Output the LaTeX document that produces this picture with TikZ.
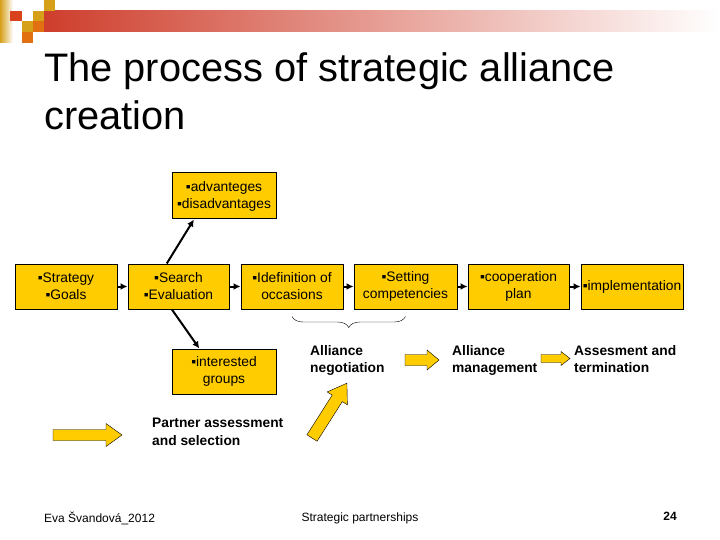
\documentclass[tikz,border=0pt]{standalone}
\usepackage{fontspec}
\setmainfont{Liberation Sans}
\usepackage{tikz}
\usetikzlibrary{decorations.pathreplacing}
\usetikzlibrary{calc}
\usetikzlibrary{arrows.meta}
\usepackage{xcolor}
\definecolor{boxyellow}{RGB}{255,204,0}
\definecolor{bannerred}{RGB}{206,62,44}
\definecolor{sqgold}{RGB}{214,160,24}
\definecolor{sqorange}{RGB}{224,112,16}
\definecolor{sqred}{RGB}{216,66,28}

\tikzset{
  stepbox/.style={draw, line width=1pt, fill=boxyellow, inner sep=0pt, minimum width=102pt, minimum height=45pt, align=center, font=\fontsize{13.8}{17}\selectfont},
  phase/.style={anchor=north west, inner sep=0pt, align=left, font=\fontsize{13.8}{17.5}\bfseries},
  link/.style={line width=2pt, -{Latex[length=7pt,width=7pt]}},
  yarrow/.style={draw, fill=boxyellow, line join=miter},
  pics/blockarrow/.style n args={4}{code={
    \draw[yarrow] (0,#2) -- ({#1-#4},#2) -- ({#1-#4},#3) -- (#1,0) -- ({#1-#4},-#3) -- ({#1-#4},-#2) -- (0,-#2) -- cycle;
  }}
}

\begin{document}
\begin{tikzpicture}[x=1pt, y=-1pt]
  \useasboundingbox[fill=white] (0,0) rectangle (720,540);

  % banner
  \shade[left color=sqgold, right color=white] (0,0) rectangle (13,43);
  \shade[left color=bannerred, right color=white] (44,11) rectangle (720,32);
  \fill[sqred] (10,11) rectangle (22,21);
  \fill[sqgold] (22,21) rectangle (33,32);
  \fill[sqgold] (33,11) rectangle (44,21);
  \fill[sqgold] (44,0) rectangle (55,11);
  \fill[sqorange] (33,21) rectangle (44,32);
  \fill[sqorange] (22,32) rectangle (33,43);

  \node[anchor=north west, inner sep=0pt, align=left, font=\fontsize{39.8}{48}\selectfont] (title) at (44,52)
    {The process of strategic alliance\\creation};

  % process boxes
  \node[stepbox] (strategy) at (66,286.5) {▪Strategy\\▪Goals};
  \node[stepbox, minimum width=101pt] (search) at (178.5,286.5) {▪Search\\▪Evaluation};
  \node[stepbox] (idef) at (292,286.5) {▪Idefinition of\\occasions};
  \node[stepbox, minimum width=103pt] (setting) at (405.5,286.5) {▪Setting\\competencies};
  \node[stepbox, minimum width=101pt] (coop) at (518.5,286.5) {▪cooperation\\plan};
  \node[stepbox] (impl) at (632,286.5) {▪implementation};
  \node[stepbox, minimum width=104pt, minimum height=46pt] (adv) at (224,196) {▪advanteges\\▪disadvantages};
  \node[stepbox, minimum width=104pt] (inter) at (224,371.5) {▪interested\\groups};

  \draw[link] (strategy) -- (search);
  \draw[link] (search) -- (idef);
  \draw[link] (idef) -- (setting);
  \draw[link] (setting) -- (coop);
  \draw[link] (coop) -- (impl);
  \draw[link] (search.117) -- (adv.218);
  \draw[link] (search.254) -- (inter.137);

  \draw[decorate, decoration={brace, mirror, amplitude=11pt}]
    ($(idef.south)+(0,7)$) -- ($(setting.south)+(0,7)$);

  % phases
  \node[phase] (nego) at (310,345) {Alliance\\negotiation};
  \node[phase] (manage) at (452,345) {Alliance\\management};
  \node[phase] (assess) at (574,345) {Assesment and\\termination};
  \node[phase] (partner) at (152,418) {Partner assessment\\and selection};

  \pic at (405,360) {blockarrow={34}{5.5}{10}{12}};
  \pic at (541,358.5) {blockarrow={29}{4}{7}{9}};
  \pic at (53,435) {blockarrow={69}{5.5}{11.5}{16}};
  \pic[rotate=57.5] at (312,438) {blockarrow={65}{6}{12}{18}};

  % footer
  \node[anchor=west, inner sep=0pt, font=\fontsize{12}{14}\selectfont] (author) at (44,518) {Eva Švandová\_2012};
  \node[inner sep=0pt, font=\fontsize{12}{14}\selectfont] (course) at (360,518) {Strategic partnerships};
  \node[inner sep=0pt, font=\fontsize{12}{14}\bfseries] (page) at (670,516) {24};
\end{tikzpicture}
\end{document}
